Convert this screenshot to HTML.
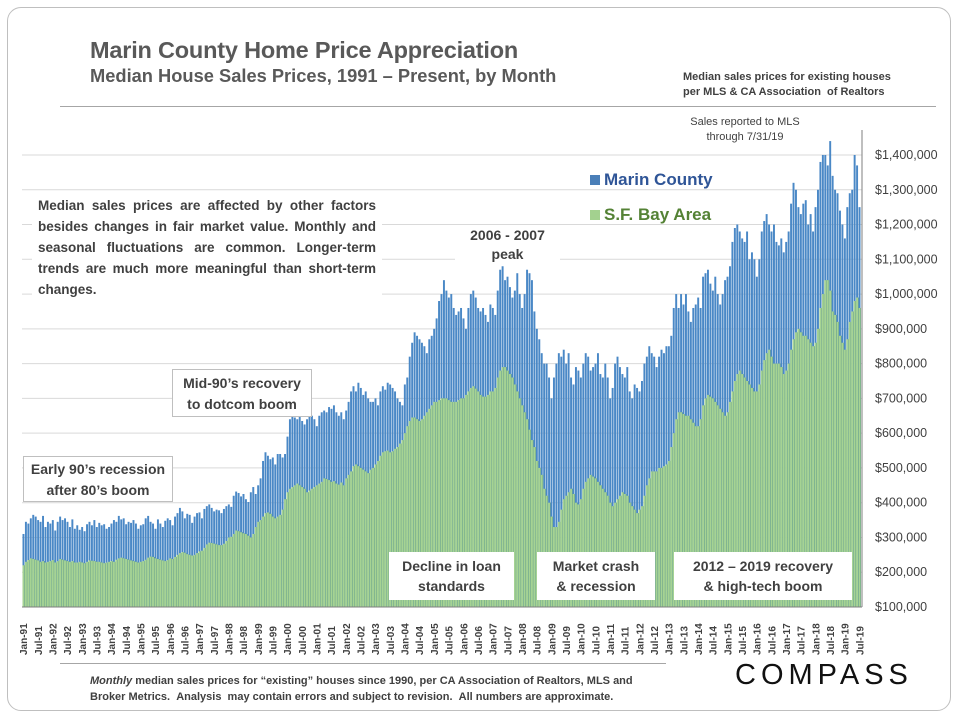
<!DOCTYPE html>
<html><head><meta charset="utf-8"><style>
body{margin:0;background:#fff;font-family:"Liberation Sans",Arial,sans-serif}
#card{position:absolute;left:7px;top:7px;width:944px;height:704px;border:1.5px solid #bfbfbf;border-radius:14px;box-sizing:border-box}
.abs{position:absolute}
.box{position:absolute;background:#fff;border:1px solid #bfbfbf;text-align:center;font-weight:bold;color:#404040;font-size:14px;line-height:20px}
</style></head><body>
<div id="card"></div>
<div class="abs" style="left:90px;top:37px;font-size:23.5px;font-weight:bold;color:#595959;letter-spacing:-0.2px">Marin County Home Price Appreciation</div>
<div class="abs" style="left:90px;top:65px;font-size:18.3px;font-weight:bold;color:#595959">Median House Sales Prices, 1991 – Present, by Month</div>
<div class="abs" style="left:683px;top:70px;font-size:11px;font-weight:bold;color:#404040;line-height:15px">Median sales prices for existing houses<br>per MLS &amp; CA Association &nbsp;of Realtors</div>
<div class="abs" style="left:60px;top:106px;width:876px;height:1px;background:#a6a6a6"></div>
<div class="abs" style="left:690px;top:115px;width:110px;text-align:center;font-size:11px;color:#404040;line-height:15px">Sales reported to MLS through 7/31/19</div>
<svg id="chart" class="abs" style="left:0;top:0" width="960" height="720"></svg>
<div class="abs" style="left:32px;top:192px;width:338px;background:#fff;padding:3px 6px;font-size:13.5px;font-weight:bold;color:#404040;line-height:21px;text-align:justify">Median sales prices are affected by other factors besides changes in fair market value. Monthly and seasonal fluctuations are common. Longer-term trends are much more meaningful than short-term changes.</div>
<div class="abs" style="left:455px;top:226px;width:105px;background:#fff;text-align:center;font-size:14px;font-weight:bold;color:#404040;line-height:19px">2006 - 2007<br>peak</div>
<div class="box" style="left:23px;top:456px;width:150px;height:46px;padding-top:2px;box-sizing:border-box;line-height:21px">Early 90’s recession<br>after 80’s boom</div>
<div class="box" style="left:172px;top:369px;width:140px;height:48px;padding-top:3px;box-sizing:border-box;line-height:21px">Mid-90’s recovery<br>to dotcom boom</div>
<div class="box" style="left:389px;top:552px;width:125px;height:48px;border:none;padding-top:4px;box-sizing:border-box">Decline in loan<br>standards</div>
<div class="box" style="left:537px;top:552px;width:118px;height:48px;border:none;padding-top:4px;box-sizing:border-box">Market crash<br>&amp; recession</div>
<div class="box" style="left:674px;top:552px;width:178px;height:48px;border:none;padding-top:4px;box-sizing:border-box">2012 – 2019 recovery<br>&amp; high-tech boom</div>
<div class="abs" style="left:590px;top:170px;font-size:17px;font-weight:bold;color:#2f5597"><span style="display:inline-block;width:10px;height:10px;background:#4a7fb8;margin-right:4px"></span>Marin County</div>
<div class="abs" style="left:590px;top:205px;font-size:17px;font-weight:bold;color:#548235"><span style="display:inline-block;width:10px;height:10px;background:#a3d18f;margin-right:4px"></span>S.F. Bay Area</div>
<div class="abs" style="left:60px;top:663px;width:606px;height:1px;background:#a6a6a6"></div>
<div class="abs" style="left:90px;top:673px;width:580px;font-size:11px;font-weight:bold;color:#404040;line-height:16px"><i>Monthly</i> median sales prices for “existing” houses since 1990, per CA Association of Realtors, MLS and Broker Metrics. &nbsp;Analysis &nbsp;may contain errors and subject to revision. &nbsp;All numbers are approximate.</div>
<div class="abs" style="left:735px;top:659px;font-size:29px;letter-spacing:5px;color:#111">COMPASS</div>
<script>
const marin=[
310,345,340,355,365,360,350,345,362,330,345,340,
350,320,345,360,350,355,345,330,352,325,335,322,
330,318,338,345,335,350,330,342,335,338,325,330,
340,350,345,362,352,355,338,345,342,350,340,325,
335,338,355,362,345,340,325,352,340,330,348,355,
350,335,360,370,385,375,355,368,365,342,360,370,
372,355,382,390,395,385,375,380,378,370,382,390,
395,388,420,432,428,418,425,410,402,430,445,425,
450,470,520,545,535,525,530,510,540,540,530,540,
590,640,650,645,640,648,635,625,640,660,650,640,
620,650,660,665,660,675,670,680,660,650,660,640,
665,690,720,735,720,745,730,710,720,700,690,690,
700,680,720,735,725,745,740,730,720,700,690,680,
740,760,820,860,890,880,870,860,850,830,870,880,
900,930,980,1000,1040,1010,990,1000,960,940,950,960,
930,900,960,1000,1010,990,960,950,960,940,920,970,
960,940,1010,1070,1080,1040,1050,1020,990,1010,1060,1000,
960,1000,1070,1060,1040,950,900,870,830,800,800,760,
700,760,800,830,820,840,800,830,760,740,790,780,
760,800,830,820,780,790,800,830,770,760,800,760,
700,730,800,820,790,770,760,790,720,700,740,730,
720,750,800,820,850,830,820,790,820,840,830,850,
850,880,960,1000,960,1000,970,1000,950,920,960,970,
990,960,1050,1060,1070,1030,1010,1050,1000,970,1000,1040,
1050,1080,1150,1190,1200,1180,1160,1150,1180,1100,1120,1100,
1050,1100,1180,1210,1230,1200,1180,1200,1150,1140,1160,1120,
1150,1180,1260,1320,1300,1250,1230,1260,1270,1200,1230,1180,
1250,1300,1380,1400,1400,1370,1440,1340,1300,1290,1240,1200,
1160,1250,1290,1300,1400,1370,1250];
const bayArea=[
220,230,235,240,238,236,234,230,232,228,230,232,
235,228,232,238,236,234,232,230,232,228,228,230,
228,226,230,234,233,232,230,230,228,226,228,230,
232,230,236,240,242,240,238,236,234,232,230,228,
230,232,236,242,245,244,240,238,236,234,232,235,
240,238,244,250,255,258,256,252,250,248,250,255,
260,262,270,280,285,284,282,280,278,278,282,290,
300,302,310,320,318,315,312,310,305,300,310,330,
345,350,360,370,372,368,360,355,360,365,380,410,
430,440,445,450,455,450,445,440,430,435,440,445,
450,455,460,470,468,465,460,462,455,452,458,450,
470,480,490,505,510,505,500,495,490,485,495,500,
510,520,535,545,548,550,545,548,555,560,570,580,
600,620,635,645,645,640,635,640,650,660,670,680,
690,690,695,700,700,700,695,690,690,690,695,700,
700,710,720,730,735,728,720,710,705,705,710,720,
720,730,760,780,790,790,780,770,760,740,720,700,
680,660,640,610,580,560,520,500,480,440,420,400,
360,330,330,345,380,410,420,430,440,425,400,395,
410,440,460,470,480,475,470,460,450,440,430,420,
400,390,400,410,420,430,425,420,400,390,380,370,
380,390,420,450,470,490,490,490,500,500,505,510,
520,560,600,640,660,660,655,650,650,640,630,620,
620,640,680,700,710,705,700,690,680,670,660,650,
660,690,720,750,770,780,770,760,750,740,730,720,
720,740,780,810,830,840,820,800,800,800,790,770,
780,800,840,870,890,900,890,880,880,870,860,850,
860,900,960,1000,1040,1040,1010,950,940,920,880,860,
840,870,920,950,980,990,960];
const yTicks=[100,200,300,400,500,600,700,800,900,1000,1100,1200,1300,1400];
const mon=["Jan","Jul"];
const startYear=1991;

const NS="http://www.w3.org/2000/svg";
const svg=document.getElementById('chart');
const X0=22.5,STEP=(861-22.5)/343,Y0=607,PX=0.3477;
function xs(i){return X0+i*STEP;}
function ys(v){return Y0-(v-100)*PX;}
function mk(t,a){const e=document.createElementNS(NS,t);for(const k in a)e.setAttribute(k,a[k]);svg.appendChild(e);return e;}
yTicks.forEach(v=>{
  const g=mk('line',{x1:22,x2:862,y1:ys(v),y2:ys(v),stroke:'#d9d9d9','stroke-width':1});
  
  
  const t=mk('text',{x:875,y:ys(v)+4,'font-size':12.5,fill:'#404040','font-family':'Liberation Sans, sans-serif'});
  t.textContent='$'+(v*1000).toLocaleString('en-US');
  
  
});
marin.forEach((v,i)=>{
  const r=mk('rect',{x:xs(i),y:ys(v),width:STEP-0.5,height:Y0-ys(v),fill:'#4a88c6'});
  
  
});
bayArea.forEach((v,i)=>{
  const r=mk('rect',{x:xs(i),y:ys(v),width:STEP,height:Y0-ys(v),fill:'#a6d393'});
  
  
  const l=mk('line',{x1:xs(i)+STEP-0.3,x2:xs(i)+STEP-0.3,y1:ys(v),y2:Y0,stroke:'#5f9a8a','stroke-width':0.5});
  
  
});
const ax=mk('line',{x1:22,x2:862,y1:Y0,y2:Y0,stroke:'#7f7f7f','stroke-width':1});


const ay=mk('line',{x1:862,x2:862,y1:130,y2:Y0,stroke:'#7f7f7f','stroke-width':1});


for(let i=0;i<marin.length;i+=6){
  const yr=startYear+Math.floor(i/12);
  const lab=mon[(i%12)/6]+'-'+String(yr%100).padStart(2,'0');
  const cx=xs(i)+STEP/2;
  const t=mk('text',{x:cx+3.5,y:655,'font-size':10,'font-weight':'bold',fill:'#404040','font-family':'Liberation Sans, sans-serif',transform:'rotate(-90 '+(cx+3.5)+' 655)'});
  t.textContent=lab;
  
  
}
</script>
</body></html>
